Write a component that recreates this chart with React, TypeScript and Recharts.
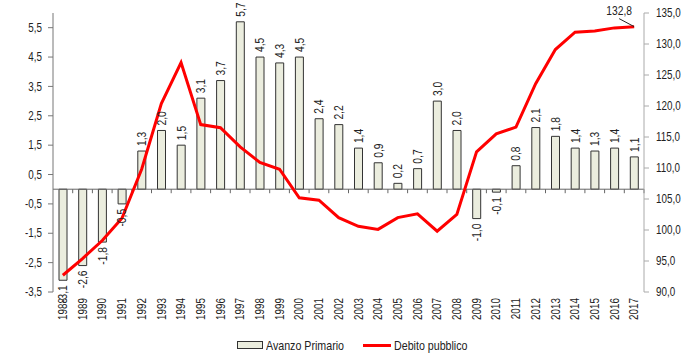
import React from "react";
import { ComposedChart, Bar, Line, XAxis, YAxis, ReferenceLine, Legend, LabelList } from "recharts";

const anni = [
  "1988", "1989", "1990", "1991", "1992", "1993", "1994", "1995", "1996", "1997",
  "1998", "1999", "2000", "2001", "2002", "2003", "2004", "2005", "2006", "2007",
  "2008", "2009", "2010", "2011", "2012", "2013", "2014", "2015", "2016", "2017",
];

const avanzoPrimario = [
  -3.1, -2.6, -1.8, -0.5, 1.3, 2.0, 1.5, 3.1, 3.7, 5.7,
  4.5, 4.3, 4.5, 2.4, 2.2, 1.4, 0.9, 0.2, 0.7, 3.0,
  2.0, -1.0, -0.1, 0.8, 2.1, 1.8, 1.4, 1.3, 1.4, 1.1,
];

const debitoPubblico = [
  92.7, 95.4, 98.3, 101.9, 109.8, 120.4, 127.0, 117.0, 116.5, 113.4,
  110.9, 109.8, 105.2, 104.8, 102.0, 100.6, 100.1, 102.0, 102.6, 99.8,
  102.5, 112.6, 115.5, 116.6, 123.6, 129.1, 131.9, 132.1, 132.6, 132.8,
];

const tickSinistra = [-3.5, -2.5, -1.5, -0.5, 0.5, 1.5, 2.5, 3.5, 4.5, 5.5];
const tickDestra = [90, 95, 100, 105, 110, 115, 120, 125, 130, 135];

const data = anni.map((anno, i) => ({
  anno,
  avanzo: avanzoPrimario[i],
  debito: debitoPubblico[i],
}));

const FONT = "'Liberation Sans', Arial, sans-serif";
const TESTO = "#222";
const STRETTO = 0.82; // simula Arial Narrow

const fmt = (v: number, d = 1) => v.toFixed(d).replace(".", ",");

// testo "narrow": scala orizzontale nel verso di scrittura
function TestoStretto({ x, y, rot = 0, anchor = "start", size = 12, children }: any) {
  return (
    <text
      transform={`translate(${x},${y}) rotate(${rot}) scale(${STRETTO},1)`}
      textAnchor={anchor}
      dy="0.35em"
      fontSize={size}
      fill={TESTO}
      fontFamily={FONT}
    >
      {children}
    </text>
  );
}

const AnnoTick = (props: any) => {
  const { x, y, payload } = props;
  return <TestoStretto x={x} y={y} rot={-90} anchor="end">{payload.value}</TestoStretto>;
};

const YTick = (props: any) => {
  const { x, y, payload, textAnchor } = props;
  return <TestoStretto x={x} y={y} anchor={textAnchor}>{fmt(payload.value)}</TestoStretto>;
};

const EtichettaBarra = (props: any) => {
  const vb = props.viewBox ?? props;
  const { x, y, width, height } = vb;
  const value = Number(props.value);
  const cx = x + width / 2;
  const top = Math.min(y, y + height);
  const bottom = Math.max(y, y + height);
  const neg = value < 0;
  const py = neg ? bottom + 5 : top - 5;
  return (
    <TestoStretto x={cx} y={py} rot={-90} anchor={neg ? "end" : "start"} size={12.5}>
      {fmt(value)}
    </TestoStretto>
  );
};

const EtichettaDebito = (props: any) => {
  if (props.index !== anni.length - 1) return null;
  const vb = props.viewBox ?? props;
  const x = vb.x;
  const y = vb.y;
  return (
    <g>
      <line x1={x - 15} y1={y - 8} x2={x} y2={y} stroke="#222" strokeWidth={1} />
      <TestoStretto x={x - 15} y={y - 16} anchor="middle" size={12.5}>
        {fmt(Number(props.value))}
      </TestoStretto>
    </g>
  );
};

const AsseZero = (p: any) => {
  const { x1, y1, x2 } = p;
  const step = (x2 - x1) / anni.length;
  return (
    <g>
      <line x1={x1} y1={y1} x2={x2} y2={y1} stroke="#666" strokeWidth={1} />
      {anni.map((_, i) => (
        <line
          key={i}
          x1={x1 + step * (i + 1)}
          x2={x1 + step * (i + 1)}
          y1={y1}
          y2={y1 + 4}
          stroke="#666"
          strokeWidth={1}
        />
      ))}
    </g>
  );
};

const VoceLegenda = ({ w, children }: any) => (
  <span style={{ display: "inline-block", width: w, whiteSpace: "nowrap" }}>
    <span style={{ display: "inline-block", transform: `scaleX(${STRETTO})`, transformOrigin: "left center" }}>
      {children}
    </span>
  </span>
);

const Legenda = () => (
  <div
    style={{
      display: "flex",
      justifyContent: "center",
      alignItems: "center",
      height: 26,
      paddingLeft: 6,
      fontFamily: FONT,
      fontSize: 13,
      color: TESTO,
    }}
  >
    <span style={{ display: "inline-block", width: 24, height: 6, background: "#ebedde", border: "1px solid #333", marginRight: 3 }} />
    <VoceLegenda w={80}>Avanzo Primario</VoceLegenda>
    <span style={{ display: "inline-block", width: 28, height: 3, background: "#ff0000", marginLeft: 17, marginRight: 3 }} />
    <VoceLegenda w={76}>Debito pubblico</VoceLegenda>
  </div>
);

export default function App() {
  return (
    <div style={{ position: "absolute", left: 0, top: 0, width: 700, height: 361, background: "#fff", fontFamily: FONT }}>
      <ComposedChart width={700} height={361} data={data} margin={{ top: 13, right: 0, left: 0, bottom: 0 }}>
        <XAxis
          dataKey="anno"
          xAxisId="x"
          height={40}
          axisLine={false}
          tickLine={false}
          tickSize={0}
          tickMargin={6}
          interval={0}
          tick={<AnnoTick />}
        />
        <YAxis
          yAxisId="sx"
          orientation="left"
          width={53}
          domain={[-3.5, 6]}
          ticks={tickSinistra}
          interval={0}
          allowDataOverflow
          tick={<YTick />}
          axisLine={{ stroke: "#777" }}
          tickLine={{ stroke: "#777" }}
          tickSize={5}
          tickMargin={6}
        />
        <YAxis
          yAxisId="dx"
          orientation="right"
          width={56}
          domain={[90, 135]}
          ticks={tickDestra}
          interval={0}
          allowDataOverflow
          tick={<YTick />}
          axisLine={{ stroke: "#aaa" }}
          tickLine={{ stroke: "#aaa" }}
          tickSize={5}
          tickMargin={7}
        />
        <Bar
          dataKey="avanzo"
          name="Avanzo Primario"
          xAxisId="x"
          yAxisId="sx"
          barSize={8}
          fill="#ebedde"
          stroke="#333"
          strokeWidth={1}
          isAnimationActive={false}
        >
          <LabelList dataKey="avanzo" content={<EtichettaBarra />} />
        </Bar>
        <ReferenceLine xAxisId="x" yAxisId="sx" y={0} shape={AsseZero} />
        <Line
          dataKey="debito"
          name="Debito pubblico"
          xAxisId="x"
          yAxisId="dx"
          type="linear"
          stroke="#ff0000"
          strokeWidth={3}
          dot={false}
          activeDot={false}
          isAnimationActive={false}
        >
          <LabelList dataKey="debito" content={<EtichettaDebito />} />
        </Line>
        <Legend verticalAlign="bottom" height={29} content={<Legenda />} />
      </ComposedChart>
    </div>
  );
}
